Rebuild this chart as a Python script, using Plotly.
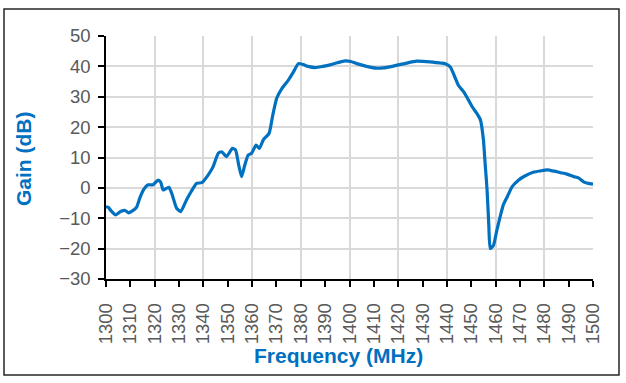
import plotly.graph_objects as go

freq_mhz = [1300, 1301, 1302, 1304, 1306, 1307.7, 1309.3, 1311, 1312.6, 1313.9, 1315.5, 1317.3,
            1319.3, 1321.4, 1322.5, 1323.5, 1325.8, 1327, 1329, 1330.7, 1333.1, 1335, 1337.2,
            1339.3, 1342, 1344, 1346.1, 1347.5, 1349.5, 1351.9, 1353.2, 1354.5, 1355.7, 1357,
            1358.4, 1359.8, 1361.6, 1363, 1364.6, 1367, 1368.5, 1370.1, 1372.2, 1374.9, 1377,
            1379, 1381, 1383, 1386, 1389, 1392, 1395, 1398.2, 1400.5, 1403, 1407, 1411, 1414,
            1418, 1423, 1427.6, 1433, 1437.3, 1439.3, 1441.4, 1443, 1444.7, 1446.9, 1448.1,
            1450.4, 1452.3, 1453.8, 1455, 1455.7, 1456.5, 1457.2, 1457.8, 1459.1, 1460.5,
            1461.9, 1463.2, 1464.8, 1466.8, 1469.5, 1472, 1475.7, 1478.5, 1481.2, 1484, 1486.7,
            1489, 1492.2, 1494, 1496.3, 1498, 1500]

gain_db = [-6.2, -6.4, -7.5, -8.9, -7.8, -7.4, -8.2, -7.5, -6.3, -3.3, -0.5, 1.0,
           1.0, 2.6, 1.8, -0.7, 0.2, -1.8, -6.7, -7.8, -3.9, -1.2, 1.5,
           1.7, 4.3, 7.0, 11.4, 11.9, 10.3, 13.0, 12.5, 7.5, 3.7, 7.5,
           10.8, 11.4, 14.1, 13.0, 15.8, 18.0, 24.0, 29.5, 32.7, 35.5, 38.2,
           40.9, 40.6, 40.0, 39.6, 40.0, 40.5, 41.2, 41.8, 41.6, 40.9, 40.0, 39.4, 39.5,
           40.1, 41.0, 41.7, 41.5, 41.1, 40.9, 39.8, 37.0, 33.8, 31.6, 30.0,
           26.7, 24.5, 22.3, 15.8, 8.0, -0.7, -12.0, -20.0, -19.0, -14.0,
           -9.4, -5.5, -2.9, 0.4, 2.6, 3.9, 5.2, 5.6, 5.9, 5.5, 5.0,
           4.6, 3.7, 3.3, 1.9, 1.5, 1.2]

x_title = "Frequency (MHz)"
y_title = "Gain (dB)"

BLUE = "#0070C0"
GRID = "#d9d9d9"
TICKFONT = dict(family="Liberation Sans", size=18.5, color="#595959")

fig = go.Figure()
fig.add_trace(go.Scatter(x=freq_mhz, y=gain_db, mode="lines",
                         line=dict(color=BLUE, width=3.2, shape="spline", smoothing=0.5),
                         showlegend=False, hoverinfo="skip"))

fig.update_layout(
    width=626, height=383,
    margin=dict(l=106, r=33, t=36, b=104),
    paper_bgcolor="white", plot_bgcolor="white",
    xaxis=dict(range=[1300, 1500], tick0=1300, dtick=10, showgrid=False, zeroline=False,
               showline=True, linecolor="black", linewidth=1.5,
               ticks="outside", ticklen=6, tickwidth=1.5, tickcolor="black",
               tickangle=-90, tickfont=TICKFONT, ticklabelstandoff=9),
    xaxis2=dict(overlaying="x", matches="x", range=[1300, 1500], tick0=1300, dtick=20,
                showgrid=True, gridcolor=GRID, gridwidth=1.5, showticklabels=False,
                ticks="", showline=False, zeroline=False),
    yaxis=dict(range=[-30, 50], tick0=-30, dtick=10, showgrid=True, gridcolor=GRID, gridwidth=1.5,
               zeroline=False, showline=True, linecolor="black", linewidth=1.5,
               ticks="outside", ticklen=6, tickwidth=1.5, tickcolor="black",
               tickfont=TICKFONT, ticklabelstandoff=4),
    annotations=[
        dict(text=f"<b>{x_title}</b>", xref="paper", yref="paper", x=(338 - 106) / 487,
             y=(279 - 355) / 243, xanchor="center", yanchor="middle", showarrow=False,
             font=dict(family="Liberation Sans", size=21, color=BLUE)),
        dict(text=f"<b>{y_title}</b>", xref="paper", yref="paper", x=(23 - 106) / 487,
             y=(279 - 159) / 243, xanchor="center", yanchor="middle", showarrow=False,
             textangle=-90, font=dict(family="Liberation Sans", size=21, color=BLUE)),
    ],
    shapes=[dict(type="rect", xref="paper", yref="paper",
                 x0=(4 - 106) / 487, x1=(619 - 106) / 487,
                 y0=(279 - 375) / 243, y1=(279 - 9) / 243,
                 line=dict(color="#262626", width=1.5), fillcolor="rgba(0,0,0,0)")],
)

# invisible trace so the overlay grid axis is rendered
fig.add_trace(go.Scatter(x=[1300], y=[None], xaxis="x2", mode="lines", showlegend=False, hoverinfo="skip"))

fig.write_html("out.html", config={"displayModeBar": False},
               post_script="document.body.style.margin='0';")
